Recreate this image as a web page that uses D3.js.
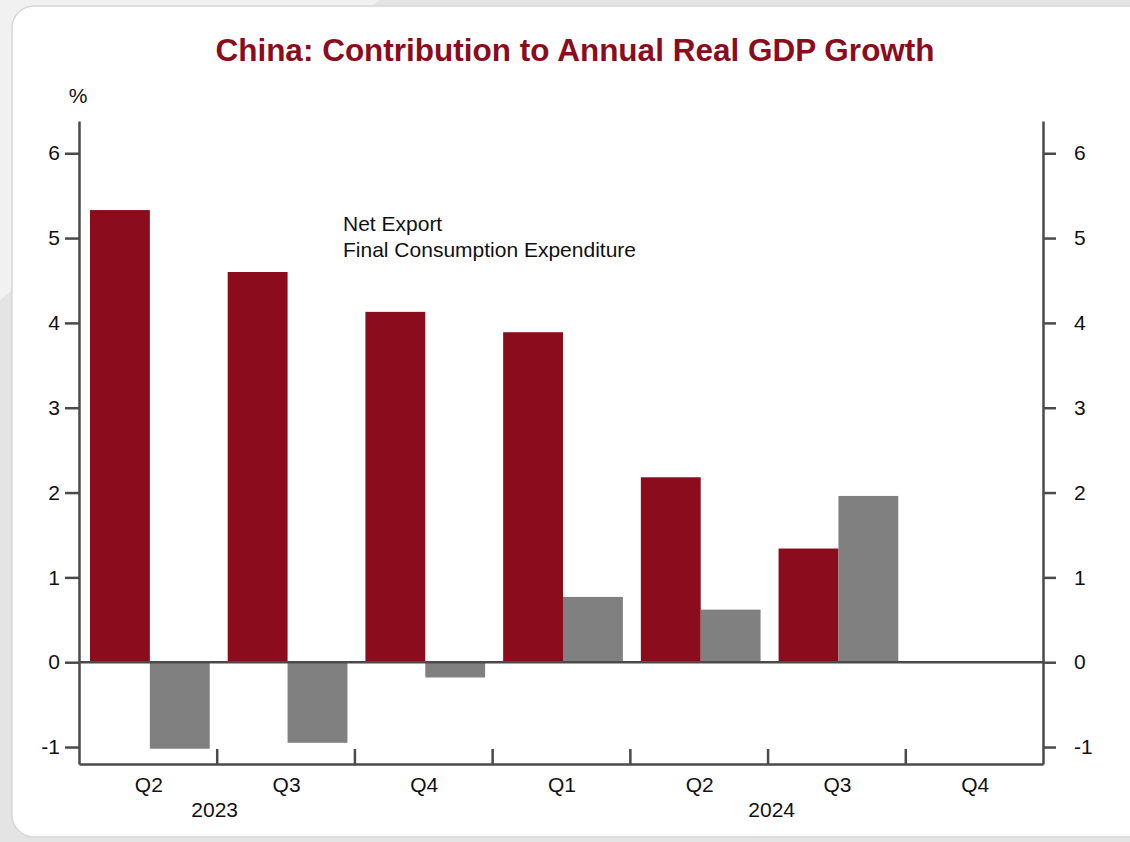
<!DOCTYPE html>
<html>
<head>
<meta charset="utf-8">
<script src="https://cdn.jsdelivr.net/npm/d3@7"></script>
<style>
  body { margin: 0; background: #fff; }
  svg { display: block; font-family: "Liberation Sans", Arial, sans-serif; }
</style>
</head>
<body>
<svg id="chart" width="1130" height="842"></svg>
<script>
// quarters and years (year label position in quarter units)
const quarters = ["Q2", "Q3", "Q4", "Q1", "Q2", "Q3", "Q4"];
const years = [{label: "2023", at: 0.985}, {label: "2024", at: 5.03}];
// series, % points
const consumption = [5.33, 4.60, 4.13, 3.89, 2.18, 1.34, null];
const netExport = [-1.02, -0.95, -0.18, 0.77, 0.62, 1.96, null];
const yTicks = [-1, 0, 1, 2, 3, 4, 5, 6];

const RED = "#8a0c1d";
const GREY = "#808080";
const AXIS = "#4a4a4a";
const FS = 21;

let svg = d3.select("#chart");
let margin = {left: 79, top: 121, right: 87, bottom: 78};
let width = +svg.attr("width") - margin.left - margin.right;
let height = +svg.attr("height") - margin.top - margin.bottom;

// background card
svg.append("rect").attr("width", 1130).attr("height", 842).attr("fill", "#e4e4e4");
svg.append("path").attr("d", "M0,0 L380,0 L300,60 L0,300 Z").attr("fill", "#f1f1f1");
svg.append("rect")
    .attr("x", 12).attr("y", 6).attr("width", 1140).attr("height", 831)
    .attr("rx", 22).attr("fill", "#fff")
    .attr("stroke", "#d6d6d6").attr("stroke-width", 1.5);

let x = d3.scaleBand().domain(d3.range(quarters.length)).range([0, width]).paddingInner(0).paddingOuter(0);
let y = d3.scaleLinear().domain([-1.2, 6.38]).range([height, 0]);
let inner = d3.scaleBand().domain([0, 1]).range([11, x.bandwidth() - 7]);

let g = svg.append("g").attr("transform", `translate(${margin.left}, ${margin.top})`);

// bars
g.selectAll("rect.cons")
    .data(consumption.map((v, i) => ({v, i})).filter(d => d.v != null))
    .enter().append("rect")
    .attr("class", "cons")
    .attr("x", d => x(d.i) + inner(0))
    .attr("width", inner.bandwidth())
    .attr("y", d => y(Math.max(0, d.v)))
    .attr("height", d => Math.abs(y(d.v) - y(0)))
    .attr("fill", RED);

g.selectAll("rect.nx")
    .data(netExport.map((v, i) => ({v, i})).filter(d => d.v != null))
    .enter().append("rect")
    .attr("class", "nx")
    .attr("x", d => x(d.i) + inner(1))
    .attr("width", inner.bandwidth())
    .attr("y", d => y(Math.max(0, d.v)))
    .attr("height", d => Math.abs(y(d.v) - y(0)))
    .attr("fill", GREY);

// zero line
g.append("line")
    .attr("x1", 0).attr("x2", width)
    .attr("y1", y(0)).attr("y2", y(0))
    .attr("stroke", AXIS).attr("stroke-width", 2.5);

// left and right axes, plain hyphen for negatives
let fmt = (d) => String(d);
let left = g.append("g")
    .call(d3.axisLeft(y).tickValues(yTicks).tickFormat(fmt).tickSize(14).tickPadding(5).tickSizeOuter(0));
let right = g.append("g")
    .attr("transform", `translate(${width}, 0)`)
    .call(d3.axisRight(y).tickValues(yTicks).tickFormat(fmt).tickSize(13).tickPadding(18).tickSizeOuter(0));

// bottom axis with ticks between quarters, pointing up
let xb = d3.scaleLinear().domain([0, quarters.length]).range([0, width]);
let bottom = g.append("g")
    .attr("transform", `translate(0, ${height})`)
    .call(d3.axisBottom(xb).tickValues(d3.range(1, quarters.length)).tickSize(-15).tickSizeOuter(0).tickFormat(""));

for (let ax of [left, right, bottom]) {
    ax.select(".domain").attr("stroke", AXIS).attr("stroke-width", 2.5);
    ax.selectAll(".tick line").attr("stroke", AXIS).attr("stroke-width", 2.5);
    ax.selectAll(".tick text").attr("fill", "#111").style("font-size", FS + "px")
        .style("font-family", "Liberation Sans, Arial, sans-serif");
}

// quarter labels
g.selectAll("text.q")
    .data(quarters)
    .enter().append("text")
    .attr("class", "q")
    .attr("x", (d, i) => x(i) + x.bandwidth() / 2 + 1)
    .attr("y", height + 28)
    .attr("text-anchor", "middle")
    .attr("font-size", FS).attr("fill", "#111")
    .text(d => d);

g.selectAll("text.yr")
    .data(years)
    .enter().append("text")
    .attr("class", "yr")
    .attr("x", d => xb(d.at))
    .attr("y", height + 53)
    .attr("text-anchor", "middle")
    .attr("font-size", FS).attr("fill", "#111")
    .text(d => d.label);

// unit label
svg.append("text")
    .attr("x", 78).attr("y", 103)
    .attr("text-anchor", "middle")
    .attr("font-size", FS).attr("fill", "#111")
    .text("%");

// title
svg.append("text")
    .attr("x", 575).attr("y", 61)
    .attr("text-anchor", "middle")
    .attr("font-size", 31.5).attr("font-weight", "bold").attr("fill", RED)
    .text("China: Contribution to Annual Real GDP Growth");

// legend (text only)
let legend = ["Net Export", "Final Consumption Expenditure"];
svg.selectAll("text.leg")
    .data(legend)
    .enter().append("text")
    .attr("class", "leg")
    .attr("x", 343)
    .attr("y", (d, i) => 231 + i * 26)
    .attr("font-size", FS).attr("fill", "#111")
    .text(d => d);
</script>
</body>
</html>
